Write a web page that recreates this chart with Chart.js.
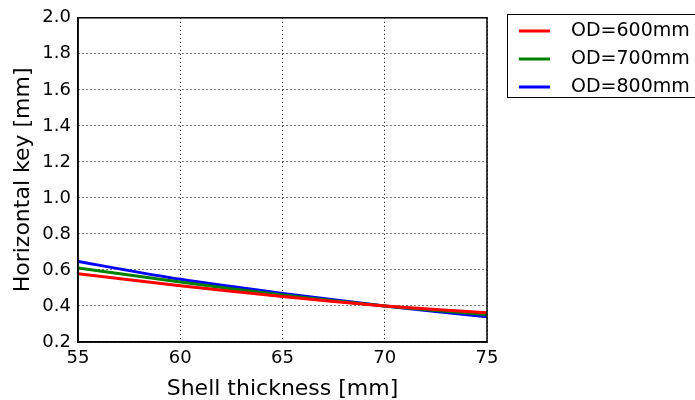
<!DOCTYPE html>
<html>
<head>
<meta charset="utf-8">
<script src="https://cdn.jsdelivr.net/npm/chart.js@4/dist/chart.umd.min.js"></script>
<style>
  html, body { margin: 0; padding: 0; background: #fff; }
  #wrap { width: 695px; height: 400px; position: relative; }
</style>
</head>
<body>
<div id="wrap"><canvas id="c" width="695" height="400"></canvas></div>
<script>
// Shell thickness (mm) on the x axis
const thickness = [55, 60, 65, 70, 75];
// Horizontal key (mm) for each outer diameter
const od600 = [0.579, 0.512, 0.452, 0.400, 0.362];
const od700 = [0.611, 0.533, 0.461, 0.400, 0.352];
const od800 = [0.647, 0.548, 0.470, 0.400, 0.340];
const seriesLabels = ['OD=600mm', 'OD=700mm', 'OD=800mm'];
const seriesColors = ['#ff0000', '#008000', '#0000ff'];
const yTicks = [0.2, 0.4, 0.6, 0.8, 1.0, 1.2, 1.4, 1.6, 1.8, 2.0];
const xTicks = [55, 60, 65, 70, 75];

const FONT = "'DejaVu Sans', sans-serif";

function toPoints(ys) { return thickness.map((x, i) => ({ x: x, y: ys[i] })); }

const datasets = [od600, od700, od800].map((ys, i) => ({
  label: seriesLabels[i],
  data: toPoints(ys),
  borderColor: seriesColors[i],
  backgroundColor: seriesColors[i],
  borderWidth: 3,
  pointRadius: 0,
  tension: 0.25,
  fill: false
}));

// Frame around the plot area plus the boxed legend on the right
const framePlugin = {
  id: 'frameAndLegend',
  afterDraw(chart) {
    const ctx = chart.ctx;
    const a = chart.chartArea;
    ctx.save();
    ctx.strokeStyle = '#000';
    ctx.lineWidth = 1.5;
    ctx.strokeRect(a.left, a.top, a.right - a.left, a.bottom - a.top);

    // legend box
    const bx = 507, by = 14, bw = 200, bh = 83;
    ctx.lineWidth = 1;
    ctx.fillStyle = '#fff';
    ctx.fillRect(bx, by, bw, bh);
    ctx.strokeRect(bx + 0.5, by + 0.5, bw, bh);
    ctx.font = '19px ' + FONT;
    ctx.textBaseline = 'middle';
    chart.data.datasets.forEach((ds, i) => {
      const y = 31 + i * 28;
      ctx.strokeStyle = ds.borderColor;
      ctx.lineWidth = 3;
      ctx.beginPath();
      ctx.moveTo(519, y);
      ctx.lineTo(550, y);
      ctx.stroke();
      ctx.fillStyle = '#000';
      ctx.fillText(ds.label, 571, y);
    });
    ctx.restore();
  }
};

new Chart(document.getElementById('c'), {
  type: 'line',
  data: { datasets: datasets },
  options: {
    responsive: false,
    animation: false,
    layout: { padding: { left: 0, top: 15, right: 208, bottom: 0 } },
    plugins: { legend: { display: false }, tooltip: { enabled: false } },
    scales: {
      x: {
        type: 'linear',
        min: 55, max: 75,
        afterBuildTicks(scale) { scale.ticks = xTicks.map(v => ({ value: v })); },
        afterFit(scale) { scale.height = 58; },
        grid: { color: '#000', lineWidth: 1, drawTicks: false },
        border: { display: true, color: '#000', width: 1.5, dash: [1, 3] },
        ticks: {
          color: '#000', padding: 6,
          font: { family: FONT, size: 18 },
          callback: v => String(v)
        },
        title: {
          display: true, text: 'Shell thickness [mm]', color: '#000',
          font: { family: FONT, size: 22, lineHeight: 1 }, padding: { top: 0, bottom: 0 }
        }
      },
      y: {
        type: 'linear',
        min: 0.2, max: 2.0,
        afterBuildTicks(scale) { scale.ticks = yTicks.map(v => ({ value: v })); },
        afterFit(scale) { scale.width = 78; },
        grid: { color: '#000', lineWidth: 1, drawTicks: false },
        border: { display: true, color: '#000', width: 1.5, dash: [1, 3] },
        ticks: {
          color: '#000', padding: 7,
          font: { family: FONT, size: 18 },
          callback: v => v.toFixed(1)
        },
        title: {
          display: true, text: 'Horizontal key [mm]', color: '#000',
          font: { family: FONT, size: 22, lineHeight: 1 }, padding: { top: 12, bottom: 0 }
        }
      }
    }
  },
  plugins: [framePlugin]
});
</script>
</body>
</html>
